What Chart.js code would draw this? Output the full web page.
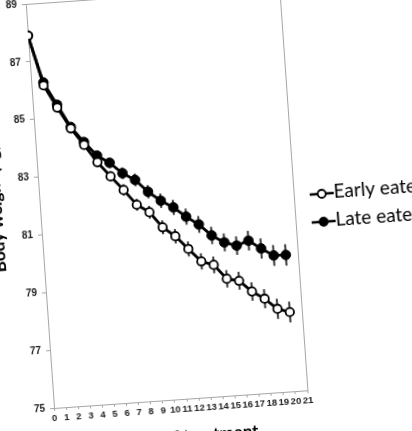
<!DOCTYPE html>
<html>
<head>
<meta charset="utf-8">
<script src="https://cdn.jsdelivr.net/npm/chart.js@4.4.1/dist/chart.umd.min.js"></script>
<style>
  html, body { margin: 0; padding: 0; background: #fff; overflow: hidden; }
  #wrap { position: relative; width: 412px; height: 431px; overflow: hidden; background: #fff; }
  #chart { position: absolute; left: 0; top: 0; }
</style>
</head>
<body>
<div id="wrap"><canvas id="chart" width="480" height="465"></canvas></div>
<script>
// weeks of treatment and mean body weight (kg) per group
const weeks = [0, 1, 2, 3, 4, 5, 6, 7, 8, 9, 10, 11, 12, 13, 14, 15, 16, 17, 18, 19, 20];
const earlyEater = [87.9, 86.15, 85.35, 84.6, 84.0, 83.37, 82.85, 82.35, 81.81, 81.52, 80.97,
                    80.63, 80.16, 79.7, 79.55, 79.04, 78.94, 78.54, 78.26, 77.88, 77.74];
const lateEater = [87.9, 86.25, 85.45, 84.65, 84.1, 83.6, 83.32, 82.93, 82.67, 82.23, 81.89,
                   81.63, 81.28, 80.98, 80.57, 80.3, 80.16, 80.3, 80.0, 79.73, 79.72];
// half length of the error bars (kg)
const earlyErr = [0, 0.08, 0.1, 0.12, 0.14, 0.16, 0.18, 0.2, 0.21, 0.22, 0.24,
                  0.25, 0.26, 0.28, 0.29, 0.3, 0.31, 0.32, 0.33, 0.35, 0.36];
const lateErr = [0, 0.08, 0.1, 0.12, 0.14, 0.16, 0.18, 0.2, 0.22, 0.23, 0.25,
                 0.26, 0.28, 0.29, 0.3, 0.31, 0.32, 0.34, 0.35, 0.36, 0.37];
const seriesNames = ['Early eater', 'Late eater'];
const yTicks = [75, 77, 79, 81, 83, 85, 87, 89];
const xTicks = [0, 1, 2, 3, 4, 5, 6, 7, 8, 9, 10, 11, 12, 13, 14, 15, 16, 17, 18, 19, 20, 21];
const xTitle = 'Weeks of treatment';
const yTitle = 'Body weight (kg)';

const axisGray = '#a6a6a6';

// vertical error bars, drawn under the markers
const errorBars = {
  id: 'errorBars',
  beforeDatasetsDraw(chart) {
    const { ctx, scales: { x, y } } = chart;
    ctx.save();
    ctx.strokeStyle = '#3c3c3c';
    ctx.lineWidth = 2;
    chart.data.datasets.forEach(ds => {
      ds.data.forEach((p, i) => {
        const e = ds.errors[i];
        if (!e) return;
        const px = x.getPixelForValue(p.x);
        ctx.beginPath();
        ctx.moveTo(px, y.getPixelForValue(p.y - e));
        ctx.lineTo(px, y.getPixelForValue(p.y + e));
        ctx.stroke();
      });
    });
    ctx.restore();
  }
};

// gray box round the plot
const plotFrame = {
  id: 'plotFrame',
  beforeDatasetsDraw(chart) {
    const { ctx, chartArea: a } = chart;
    ctx.save();
    ctx.strokeStyle = axisGray;
    ctx.lineWidth = 1;
    ctx.strokeRect(a.left + 0.5, a.top + 0.5, a.width, a.height);
    ctx.restore();
  }
};

// legend to the right of the plot, Excel style
const sideLegend = {
  id: 'sideLegend',
  afterDraw(chart) {
    const { ctx, chartArea: a } = chart;
    const rowY = [a.bottom - 195, a.bottom - 167];
    ctx.save();
    chart.data.datasets.forEach((ds, i) => {
      const y = rowY[i];
      const x0 = a.right + 16;
      ctx.strokeStyle = '#000';
      ctx.lineWidth = 2.5;
      ctx.beginPath();
      ctx.moveTo(x0, y);
      ctx.lineTo(x0 + 24, y);
      ctx.stroke();
      ctx.beginPath();
      ctx.arc(x0 + 12, y, 4, 0, Math.PI * 2);
      ctx.fillStyle = ds.pointBackgroundColor;
      ctx.fill();
      ctx.lineWidth = 1.8;
      ctx.stroke();
      ctx.fillStyle = '#000';
      ctx.font = '19px Lato';
      ctx.textBaseline = 'middle';
      ctx.fillText(ds.label, x0 + 24, y - 1);
    });
    ctx.restore();
  }
};

const canvas = document.getElementById('chart');
const chart = new Chart(canvas, {
  type: 'line',
  data: {
    datasets: [
      {
        label: seriesNames[0],
        data: weeks.map((w, i) => ({ x: w, y: earlyEater[i] })),
        errors: earlyErr,
        borderColor: '#000',
        borderWidth: 2.8,
        pointRadius: 4.2,
        pointBorderWidth: 1.8,
        pointBackgroundColor: '#fff',
        pointBorderColor: '#000',
        tension: 0
      },
      {
        label: seriesNames[1],
        data: weeks.map((w, i) => ({ x: w, y: lateEater[i] })),
        errors: lateErr,
        borderColor: '#000',
        borderWidth: 2.8,
        pointRadius: 4.8,
        pointBorderWidth: 1,
        pointBackgroundColor: '#000',
        pointBorderColor: '#000',
        tension: 0
      }
    ]
  },
  options: {
    responsive: false,
    animation: false,
    devicePixelRatio: 1,
    layout: { padding: { left: 0, top: 12, right: 172, bottom: 0 } },
    plugins: { legend: { display: false }, tooltip: { enabled: false } },
    scales: {
      x: {
        type: 'linear',
        min: 0,
        max: 21,
        afterBuildTicks: s => { s.ticks = xTicks.map(v => ({ value: v })); },
        afterFit: s => { s.height = 48; },
        grid: { drawOnChartArea: false, drawTicks: true, tickLength: 3, color: axisGray },
        border: { color: axisGray, width: 1 },
        ticks: { font: { family: 'Liberation Sans', size: 9.5, weight: 'bold' },
                 color: '#222', padding: 2, maxRotation: 0, autoSkip: false },
        title: { display: true, text: xTitle, color: '#000', padding: 0,
                 font: { family: 'Lato', size: 17, weight: 'bold' } }
      },
      y: {
        min: 75,
        max: 89,
        afterBuildTicks: s => { s.ticks = yTicks.map(v => ({ value: v })); },
        afterFit: s => { s.width = 54; },
        grid: { drawOnChartArea: false, drawTicks: true, tickLength: 4, color: axisGray },
        border: { color: axisGray, width: 1 },
        ticks: { font: { family: 'Liberation Sans', size: 10, weight: 'bold' },
                 color: '#222', padding: 5 },
        title: { display: true, text: yTitle, color: '#000', padding: 0,
                 font: { family: 'Lato', size: 17, weight: 'bold' } }
      }
    }
  },
  plugins: [plotFrame, errorBars, sideLegend]
});

// the source figure is tilted a little; turn the canvas about the plot origin
const a = chart.chartArea;
canvas.style.left = (54 - a.left) + 'px';
canvas.style.top = (407.5 - a.bottom) + 'px';
canvas.style.transformOrigin = a.left + 'px ' + a.bottom + 'px';
canvas.style.transform = 'rotate(-4deg)';
</script>
</body>
</html>
